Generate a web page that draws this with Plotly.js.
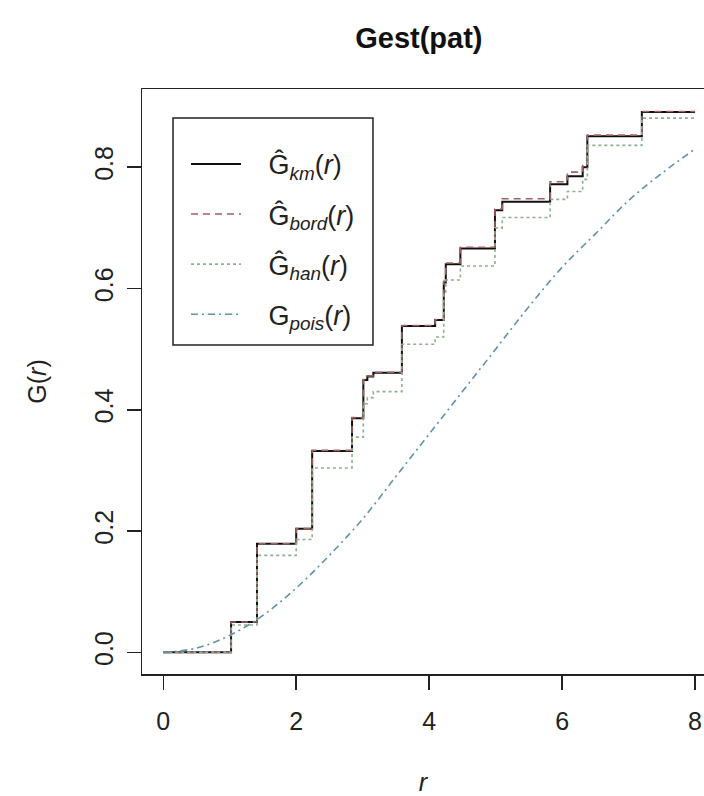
<!DOCTYPE html>
<html><head><meta charset="utf-8">
<script src="https://cdn.plot.ly/plotly-3.0.1.min.js"></script>
<style>html,body{margin:0;padding:0;background:#fff}</style>
</head><body><div id="chart" style="width:704px;height:796px"></div>
<script>
// Step-function estimates
const rSteps = [0, 1.02, 1.41, 2.00, 2.24, 2.84, 3.01, 3.07, 3.16, 3.59, 4.09, 4.22, 4.25, 4.47, 4.99, 5.10, 5.82, 6.08, 6.31, 6.38, 7.20, 8.00];
const gKm   = [0, 0.050, 0.179, 0.204, 0.332, 0.386, 0.449, 0.455, 0.461, 0.538, 0.548, 0.610, 0.640, 0.666, 0.729, 0.743, 0.772, 0.785, 0.800, 0.851, 0.891, 0.891];
const gBord = [0, 0.050, 0.179, 0.204, 0.333, 0.387, 0.450, 0.456, 0.462, 0.539, 0.549, 0.612, 0.642, 0.668, 0.731, 0.748, 0.776, 0.792, 0.805, 0.853, 0.892, 0.892];
const gHan  = [0, 0.045, 0.160, 0.186, 0.304, 0.355, 0.410, 0.420, 0.430, 0.508, 0.520, 0.590, 0.614, 0.637, 0.700, 0.717, 0.747, 0.760, 0.780, 0.836, 0.881, 0.881];
// Poisson reference curve
const rPois = [0, 0.5, 1, 1.5, 2, 2.5, 3, 3.5, 4, 4.5, 5, 5.5, 6, 6.5, 7, 7.5, 8];
const gPois = [0, 0.007, 0.028, 0.061, 0.106, 0.160, 0.220, 0.290, 0.360, 0.430, 0.500, 0.570, 0.635, 0.690, 0.745, 0.790, 0.830];
const xTicks = [0, 2, 4, 6, 8];
const yTicks = [0, 0.2, 0.4, 0.6, 0.8];
const yTickText = ['0.0', '0.2', '0.4', '0.6', '0.8'];
const names = ['Ĝ<sub><i>km</i></sub>(<i>r</i>)', 'Ĝ<sub><i>bord</i></sub>(<i>r</i>)', 'Ĝ<sub><i>han</i></sub>(<i>r</i>)', 'G<sub><i>pois</i></sub>(<i>r</i>)'];
const pad = '&nbsp;&nbsp;&nbsp;';

const traces = [
  {x: rSteps, y: gKm, mode: 'lines', line: {shape: 'hv', color: '#111', width: 2}, name: pad + names[0], legendgroup: 'a'},
  {x: rSteps, y: gBord, mode: 'lines', line: {shape: 'hv', color: '#a06262', width: 1.6, dash: '7px,5px'}, name: pad + names[1], legendgroup: 'b'},
  {x: rSteps, y: gHan, mode: 'lines', line: {shape: 'hv', color: '#8fb08f', width: 1.6, dash: '3px,3px'}, name: pad + names[2], legendgroup: 'c'},
  {x: rPois, y: gPois, mode: 'lines', line: {shape: 'spline', color: '#5f93a8', width: 1.6, dash: '7px,4px,2px,4px'}, name: pad + names[3], legendgroup: 'd'}
];

const axisFont = {family: 'Liberation Sans, Arial, sans-serif', size: 25, color: '#222'};
const layout = {
  width: 704, height: 796,
  margin: {l: 142, r: 0, t: 89, b: 122},
  paper_bgcolor: '#fff', plot_bgcolor: '#fff',
  font: axisFont,
  title: {text: '<b>Gest(pat)</b>', font: {family: 'Liberation Sans, Arial, sans-serif', size: 29, color: '#111'},
          xref: 'container', x: 0.595, xanchor: 'center', yref: 'container', y: 0.952, yanchor: 'middle'},
  xaxis: {range: [-0.32, 8.135], tickvals: xTicks, ticktext: xTicks.map(String), ticks: 'outside', ticklen: 14, tickwidth: 1.5, tickcolor: '#222',
          showline: true, mirror: true, linecolor: '#222', linewidth: 1.5, showgrid: false, zeroline: false, tickfont: axisFont,
          ticklabelstandoff: 10,
          title: {text: '<i>r</i>', font: axisFont, standoff: 46}, automargin: false},
  yaxis: {range: [-0.0357, 0.929], tickvals: yTicks, ticktext: yTickText, tickangle: -90, ticks: 'outside', ticklen: 14, tickwidth: 1.5, tickcolor: '#222',
          showline: true, mirror: false, linecolor: '#222', linewidth: 1.5, showgrid: false, zeroline: false, tickfont: axisFont,
          ticklabelstandoff: 4,
          title: {text: 'G(<i>r</i>)', font: axisFont, standoff: 36}, automargin: false},
  showlegend: true,
  legend: {x: 0.0783, y: 0.913, xanchor: 'left', yanchor: 'top', bgcolor: 'rgba(0,0,0,0)', borderwidth: 0,
           font: {family: 'Liberation Sans, Arial, sans-serif', size: 27, color: '#222'}, tracegroupgap: 12, itemwidth: 50},
  shapes: [
    {type: 'rect', xref: 'paper', yref: 'paper', x0: 0.0552, x1: 0.411, y0: 0.5624, y1: 0.9504,
     line: {color: '#222', width: 1.5}, fillcolor: 'rgba(255,255,255,0)', layer: 'above'}
  ]
};
Plotly.newPlot('chart', traces, layout, {displayModeBar: false, staticPlot: true});
</script></body></html>
